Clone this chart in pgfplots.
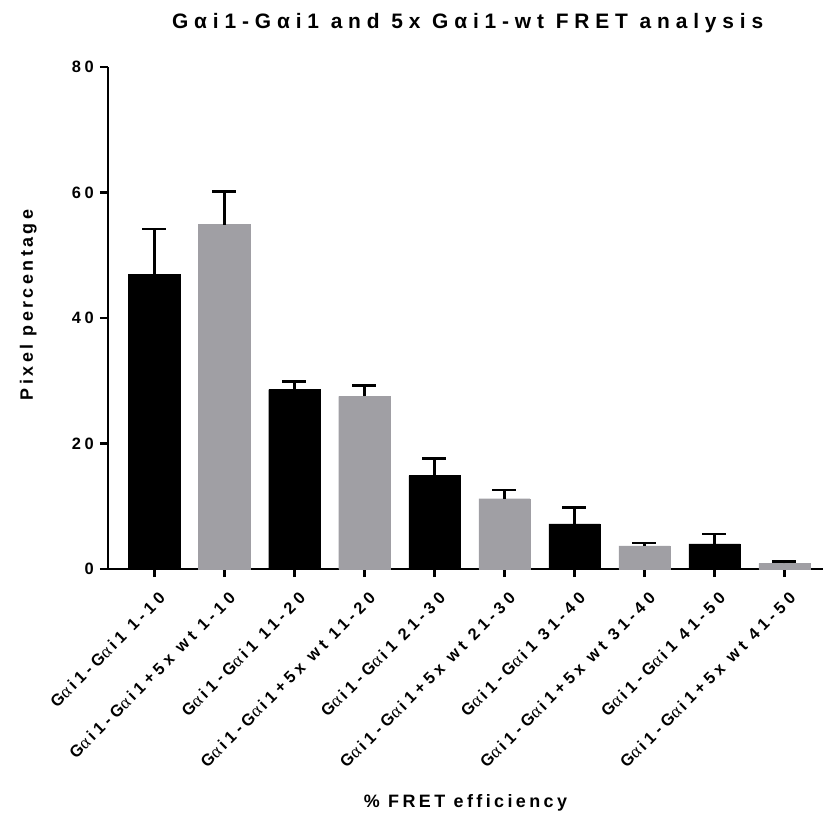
\documentclass[border=0pt]{standalone}
\usepackage{fontspec}
\setmainfont{Liberation Sans}
\newfontfamily\tf[LetterSpace=28]{Liberation Sans}
\newfontfamily\lf[LetterSpace=19]{Liberation Sans}
\newfontfamily\kf[LetterSpace=26]{Liberation Sans}
\newfontfamily\nf[LetterSpace=22]{Liberation Sans}
\newfontfamily\gr{Liberation Serif}
\usepackage{pgfplots}
\usepackage{pgfplotstable}
\pgfplotsset{compat=1.18}
\definecolor{barg}{RGB}{160,159,164}
\newcommand{\ga}{{\gr\mdseries\fontsize{18}{18}\selectfont α}}
\pgfplotstableread{
x y e
0 47.0 7.2
2 28.6 1.3
4 14.9 2.7
6 7.2 2.6
8 4.0 1.6
}\dataA
\pgfplotstableread{
x y e
1 54.9 5.3
3 27.5 1.7
5 11.2 1.4
7 3.7 0.45
9 0.9 0.25
}\dataB
\begin{document}
\begin{tikzpicture}
\useasboundingbox (-108bp,-249bp) rectangle (715bp,569bp);
\begin{axis}[
  at={(0,0)}, anchor=south west,
  scale only axis, width=715bp, height=502bp,
  clip=false,
  xmin=-0.66, xmax=9.55, ymin=0, ymax=80,
  axis lines*=left,
  axis line style={line width=2.6bp},
  ytick={0,20,...,80},
  xtick={0,...,9},
  xticklabels={
    G\ga\,i1-G\ga\,i1 1-10,
    G\ga\,i1-G\ga\,i1+5x wt 1-10,
    G\ga\,i1-G\ga\,i1 11-20,
    G\ga\,i1-G\ga\,i1+5x wt 11-20,
    G\ga\,i1-G\ga\,i1 21-30,
    G\ga\,i1-G\ga\,i1+5x wt 21-30,
    G\ga\,i1-G\ga\,i1 31-40,
    G\ga\,i1-G\ga\,i1+5x wt 31-40,
    G\ga\,i1-G\ga\,i1 41-50,
    G\ga\,i1-G\ga\,i1+5x wt 41-50},
  tick align=outside,
  major tick length=8bp,
  tick style={line width=2.6bp, black},
  /pgf/number format/assume math mode=true,
  yticklabel style={font=\nf\bfseries\fontsize{16.5}{16.5}\selectfont, inner sep=0pt, xshift=-6bp},
  xticklabel style={font=\kf\bfseries\fontsize{16.5}{16.5}\selectfont, inner sep=0pt,
    xshift=8bp, yshift=-18bp, rotate=45, anchor=east},
  ybar, bar shift=0pt, bar width=0.73,
  error bars/y dir=plus, error bars/y explicit,
  error bars/error bar style={line width=2.6bp, black},
  error bars/error mark options={rotate=90, mark size=12bp, line width=2.6bp, black},
]
\addplot[fill=black, draw=black] table[x=x, y=y, y error=e] {\dataA};
\addplot[fill=barg, draw=barg] table[x=x, y=y, y error=e] {\dataB};
\node[font=\tf\bfseries\fontsize{21}{21}\selectfont, anchor=base, yshift=38bp] at (rel axis cs:0.503,1) {Gαi1-Gαi1 and 5x Gαi1-wt FRET analysis};
\node[font=\lf\bfseries\fontsize{18}{18}\selectfont, anchor=base, yshift=-238bp] at (rel axis cs:0.50,0) {\% FRET efficiency};
\node[font=\lf\bfseries\fontsize{18}{18}\selectfont, xshift=-75bp, rotate=90, anchor=base] at (rel axis cs:0,0.526) {Pixel percentage};
\end{axis}
\end{tikzpicture}
\end{document}
